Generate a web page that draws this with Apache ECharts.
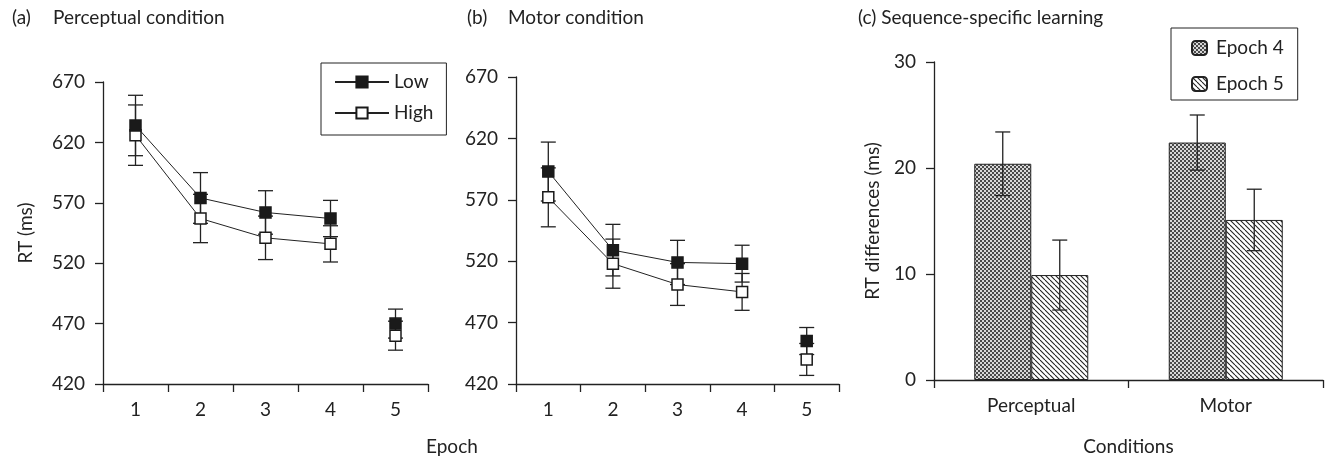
<!DOCTYPE html>
<html>
<head>
<meta charset="utf-8">
<script src="https://cdn.jsdelivr.net/npm/echarts@6/dist/echarts.min.js"></script>
<style>
html, body { margin: 0; background: #fff; }
#chart { width: 1343px; height: 461px; }
</style>
</head>
<body>
<div id="chart"></div>
<script>
// data
var epochs = ['1', '2', '3', '4', '5'];
var percLow = [634, 574, 562, 557, 470];
var percLowErr = [25, 21, 18, 15, 12];
var percHigh = [626, 557, 541, 536, 460];
var percHighErr = [25, 20, 18, 15, 12];
var motorLow = [593, 529, 519, 518, 455];
var motorLowErr = [24, 21, 18, 15, 11];
var motorHigh = [572, 518, 501, 495, 440];
var motorHighErr = [24, 20, 17, 15, 13];
var conditions = ['Perceptual', 'Motor'];
var epoch4Diff = [20.4, 22.4];
var epoch4Err = [3.0, 2.6];
var epoch5Diff = [9.9, 15.1];
var epoch5Err = [3.3, 2.9];

var FONT = 'Lato, "Open Sans", sans-serif';
var FS = 19;
var INK = '#222';

// fill patterns for the bars
function checkerPattern() {
    var c = document.createElement('canvas');
    c.width = 4; c.height = 4;
    var ctx = c.getContext('2d');
    ctx.fillStyle = '#d8d8d8';
    ctx.fillRect(0, 0, 4, 4);
    ctx.fillStyle = '#4a4a4a';
    ctx.fillRect(0, 0, 2, 2);
    ctx.fillRect(2, 2, 2, 2);
    return c;
}
function hatchPattern() {
    var s = 5;
    var c = document.createElement('canvas');
    c.width = s; c.height = s;
    var ctx = c.getContext('2d');
    ctx.fillStyle = '#fff';
    ctx.fillRect(0, 0, s, s);
    ctx.strokeStyle = '#222';
    ctx.lineWidth = 1.1;
    [-s, 0, s].forEach(function (x) {
        ctx.beginPath();
        ctx.moveTo(x, 0);
        ctx.lineTo(x + s, s);
        ctx.stroke();
    });
    return c;
}

function errData(vals, errs) {
    return vals.map(function (v, i) { return [i, v - errs[i], v + errs[i]]; });
}

function errSeries(ai, data, offset) {
    return {
        type: 'custom', xAxisIndex: ai, yAxisIndex: ai, z: 5, silent: true,
        encode: { x: 0, y: [1, 2] },
        data: data,
        renderItem: function (params, api) {
            var lo = api.coord([api.value(0), api.value(1)]);
            var hi = api.coord([api.value(0), api.value(2)]);
            var x = lo[0] + (offset || 0);
            var st = { stroke: INK, lineWidth: 1.3 };
            return {
                type: 'group', children: [
                    { type: 'line', shape: { x1: x, y1: lo[1], x2: x, y2: hi[1] }, style: st },
                    { type: 'line', shape: { x1: x - 7.5, y1: lo[1], x2: x + 7.5, y2: lo[1] }, style: st },
                    { type: 'line', shape: { x1: x - 7.5, y1: hi[1], x2: x + 7.5, y2: hi[1] }, style: st }
                ]
            };
        }
    };
}

function markerStyle(filled) {
    return { color: filled ? '#1a1a1a' : '#fff', borderColor: '#1a1a1a', borderWidth: 1.5, opacity: 1 };
}

// epochs 1-4 joined by a line, epoch 5 stands alone
function rtSeries(name, ai, vals, filled, z) {
    return [{
        name: name, type: 'line', xAxisIndex: ai, yAxisIndex: ai, z: z,
        data: vals.slice(0, 4),
        symbol: 'rect', symbolSize: 11, showSymbol: true,
        lineStyle: { color: INK, width: 1 },
        itemStyle: markerStyle(filled)
    }, {
        name: name, type: 'scatter', xAxisIndex: ai, yAxisIndex: ai, z: z,
        data: [[4, vals[4]]],
        symbol: 'rect', symbolSize: 11,
        itemStyle: markerStyle(filled)
    }];
}

var labelStyle = { fontFamily: FONT, fontSize: FS, color: INK };
var axisLine = { show: true, lineStyle: { color: INK, width: 1.3 } };
var axisTick = { show: true, length: 8, lineStyle: { color: INK, width: 1.3 } };

function catAxis(gi, data) {
    return {
        type: 'category', gridIndex: gi, data: data,
        axisLine: axisLine, axisTick: axisTick,
        axisLabel: Object.assign({ margin: 16 }, labelStyle),
        splitLine: { show: false }
    };
}
function valAxis(gi, min, max, interval) {
    return {
        type: 'value', gridIndex: gi, min: min, max: max, interval: interval,
        axisLine: axisLine, axisTick: axisTick,
        axisLabel: Object.assign({ margin: 18 }, labelStyle),
        splitLine: { show: false }
    };
}

var yA = valAxis(0, 420, 670, 50);
yA.name = 'RT (ms)';
yA.nameLocation = 'middle';
yA.nameGap = 68;
yA.nameTextStyle = labelStyle;

var yC = valAxis(2, 0, 30, 10);
yC.name = 'RT differences (ms)';
yC.nameLocation = 'middle';
yC.nameGap = 52;
yC.nameTextStyle = labelStyle;

var xC = catAxis(2, conditions);
xC.name = 'Conditions';
xC.nameLocation = 'middle';
xC.nameGap = 57;
xC.nameTextStyle = labelStyle;

var titleStyle = { fontFamily: FONT, fontSize: FS, fontWeight: 'normal', color: INK };

var myChart = echarts.init(document.getElementById('chart'));
var checker = checkerPattern();
var hatch = hatchPattern();

myChart.setOption({
    animation: false,
    backgroundColor: '#fff',
    title: [
        { text: '(a)', left: 12, top: 8, padding: 0, textStyle: titleStyle },
        { text: 'Perceptual condition', left: 53, top: 8, padding: 0, textStyle: titleStyle },
        { text: '(b)', left: 467, top: 8, padding: 0, textStyle: titleStyle },
        { text: 'Motor condition', left: 508, top: 8, padding: 0, textStyle: titleStyle },
        { text: '(c) Sequence-specific learning', left: 858, top: 8, padding: 0, textStyle: titleStyle }
    ],
    graphic: [{
        type: 'text', left: 426, top: 437,
        style: { text: 'Epoch', font: FS + 'px ' + FONT, fill: INK }
    }],
    legend: [{
        data: ['Low', 'High'],
        orient: 'vertical', left: 321, top: 63,
        itemWidth: 54, itemHeight: 14, itemGap: 11,
        padding: [9, 13, 12, 13],
        borderColor: INK, borderWidth: 1,
        textStyle: Object.assign({ lineHeight: 20 }, labelStyle)
    }, {
        data: ['Epoch 4', 'Epoch 5'],
        orient: 'vertical', left: 1171, top: 28,
        itemWidth: 15, itemHeight: 14, itemGap: 16,
        padding: [10, 14, 6, 20],
        borderColor: INK, borderWidth: 1,
        textStyle: Object.assign({ lineHeight: 20, padding: [0, 0, 0, 4] }, labelStyle)
    }],
    grid: [
        { left: 103, top: 82, width: 325, height: 302 },
        { left: 516, top: 77, width: 323, height: 307 },
        { left: 934, top: 62, width: 389, height: 319 }
    ],
    xAxis: [catAxis(0, epochs), catAxis(1, epochs), xC],
    yAxis: [yA, valAxis(1, 420, 670, 50), yC],
    series: [].concat(
        errSeries(0, errData(percHigh, percHighErr)),
        errSeries(0, errData(percLow, percLowErr)),
        rtSeries('High', 0, percHigh, false, 6),
        rtSeries('Low', 0, percLow, true, 7),
        errSeries(1, errData(motorHigh, motorHighErr)),
        errSeries(1, errData(motorLow, motorLowErr)),
        rtSeries('High', 1, motorHigh, false, 6),
        rtSeries('Low', 1, motorLow, true, 7),
        [{
            name: 'Epoch 4', type: 'bar', xAxisIndex: 2, yAxisIndex: 2,
            barWidth: 57, barGap: '0%', data: epoch4Diff,
            itemStyle: { color: { image: checker, repeat: 'repeat' }, borderColor: INK, borderWidth: 1 }
        }, {
            name: 'Epoch 5', type: 'bar', xAxisIndex: 2, yAxisIndex: 2,
            barWidth: 57, barGap: '0%', data: epoch5Diff,
            itemStyle: { color: { image: hatch, repeat: 'repeat' }, borderColor: INK, borderWidth: 1 }
        }],
        errSeries(2, errData(epoch4Diff, epoch4Err), -28.5),
        errSeries(2, errData(epoch5Diff, epoch5Err), 28.5)
    )
});
</script>
</body>
</html>
